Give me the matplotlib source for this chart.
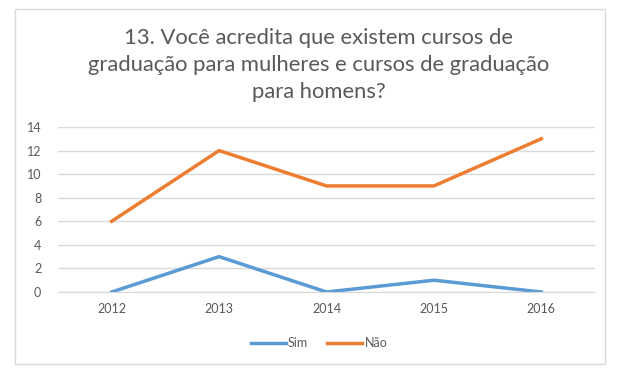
import matplotlib.pyplot as plt
from matplotlib.patches import Rectangle

plt.rcParams['font.family'] = ['Lato', 'DejaVu Sans']

anos = ['2012', '2013', '2014', '2015', '2016']
sim = [0, 3, 0, 1, 0]
nao = [6, 12, 9, 9, 13]
titulo = ('13. Você acredita que existem cursos de\n'
          'graduação para mulheres e cursos de graduação\n'
          'para homens?')

fig = plt.figure(figsize=(6.38, 3.71), dpi=100)
fig.patch.set_facecolor('white')
fig.patches.append(Rectangle((15 / 638, 1 - 364 / 371), 590 / 638, 355 / 371,
                             transform=fig.transFigure, fill=False,
                             edgecolor='#d9d9d9', linewidth=1))

ax = fig.add_axes([58 / 638, 1 - 292 / 371, 537 / 638, 165 / 371])
x = range(len(anos))
ax.plot(x, sim, color='#5b9bd5', linewidth=2.5, label='Sim')
ax.plot(x, nao, color='#ed7d31', linewidth=2.5, label='Não')

ax.set_xlim(-0.5, len(anos) - 0.5)
ax.set_ylim(0, 14)
ax.set_yticks(range(0, 15, 2))
ax.set_xticks(list(x))
ax.set_xticklabels(anos)
ax.grid(axis='y', color='#d9d9d9', linewidth=1)
ax.set_axisbelow(True)
for s in ['top', 'right', 'left']:
    ax.spines[s].set_visible(False)
ax.spines['bottom'].set_color('#d9d9d9')
ax.tick_params(length=0, labelsize=9, colors='#595959', pad=8)
ax.tick_params(axis='y', pad=12)

fig.text(0.5, 1 - 65 / 371, titulo, ha='center', va='center', fontsize=15.8,
         color='#595959', linespacing=1.45)

fig.legend(loc='center', bbox_to_anchor=(0.5, 1 - 343 / 371), ncol=2, frameon=False,
           fontsize=9, labelcolor='#595959', handlelength=2.8, columnspacing=1.5,
           handletextpad=0.2)

fig.savefig('out.png', dpi=100)
